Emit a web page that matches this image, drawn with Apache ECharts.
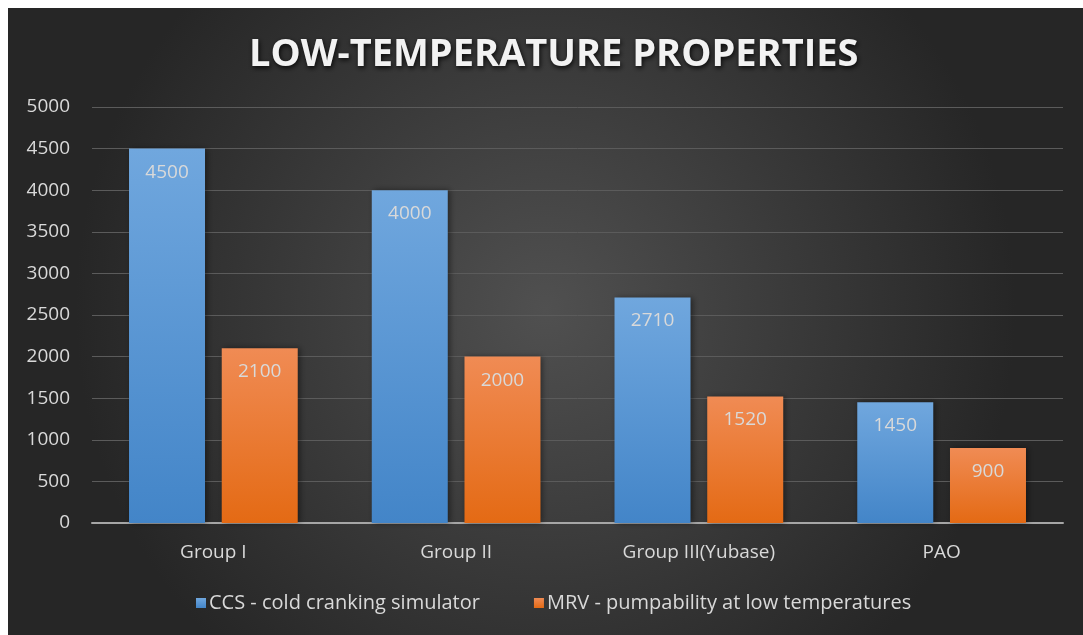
<!DOCTYPE html>
<html>
<head>
<meta charset="utf-8">
<script src="https://cdn.jsdelivr.net/npm/echarts@6/dist/echarts.min.js"></script>
<style>
  html, body { margin: 0; padding: 0; background: #ffffff; }
  #chart { width: 1083px; height: 635px; }
</style>
</head>
<body>
<div id="chart"></div>
<script>
// Base oil groups and their low-temperature test results
const categories = ['Group I', 'Group II', 'Group III(Yubase)', 'PAO'];
const ccsValues = [4500, 4000, 2710, 1450];
const mrvValues = [2100, 2000, 1520, 900];
const seriesNames = ['CCS - cold cranking simulator', 'MRV - pumpability at low temperatures'];
const chartTitle = 'LOW-TEMPERATURE PROPERTIES';

const textColor = '#d9d9d9';
const fontFamily = '"Open Sans", "Noto Sans", sans-serif';

const chart = echarts.init(document.getElementById('chart'), null, { renderer: 'canvas' });

function vGrad(top, bottom) {
  return new echarts.graphic.LinearGradient(0, 0, 0, 1, [
    { offset: 0, color: top },
    { offset: 1, color: bottom }
  ]);
}

const labelStyle = {
  show: true,
  position: 'insideTop',
  distance: 14,
  color: textColor,
  fontSize: 19,
  fontFamily: fontFamily
};

chart.setOption({
  backgroundColor: '#ffffff',
  graphic: [{
    type: 'rect',
    z: -10,
    silent: true,
    shape: { x: 8, y: 8, width: 1075, height: 627 },
    style: {
      fill: new echarts.graphic.RadialGradient(0.5, 0.48, 0.75, [
        { offset: 0, color: '#505050' },
        { offset: 1, color: '#262626' }
      ])
    }
  }],
  title: {
    text: chartTitle,
    left: 244,
    top: 31,
    textStyle: {
      color: '#f2f2f2',
      fontSize: 38,
      fontWeight: 'bold',
      fontFamily: fontFamily,
      textShadowColor: 'rgba(0,0,0,0.85)',
      textShadowBlur: 5,
      textShadowOffsetX: 1,
      textShadowOffsetY: 2
    }
  },
  legend: {
    bottom: 17,
    left: 191,
    itemWidth: 10,
    itemHeight: 10,
    itemGap: 54,
    icon: 'rect',
    textStyle: { color: textColor, fontSize: 20, fontFamily: fontFamily, padding: [0, 0, 0, -2] },
    data: seriesNames
  },
  grid: { left: 92, right: 20, top: 107, bottom: 112, containLabel: false },
  xAxis: {
    type: 'category',
    data: categories,
    axisLine: { lineStyle: { color: '#a6a6a6', width: 2 } },
    axisTick: { show: false },
    axisLabel: { color: textColor, fontSize: 19, fontFamily: fontFamily, margin: 20 }
  },
  yAxis: {
    type: 'value',
    min: 0,
    max: 5000,
    interval: 500,
    axisLine: { show: false },
    axisTick: { show: false },
    axisLabel: {
      color: textColor,
      fontSize: 19,
      fontFamily: fontFamily,
      margin: 22,
      formatter: (v) => String(v)
    },
    splitLine: { lineStyle: { color: '#5b5b5b', width: 1 } }
  },
  series: [
    {
      name: seriesNames[0],
      type: 'bar',
      data: ccsValues,
      barWidth: 76,
      barGap: '22%',
      itemStyle: {
        color: vGrad('#70a7de', '#4385c8'),
        shadowColor: 'rgba(0,0,0,0.45)',
        shadowBlur: 6,
        shadowOffsetX: 2
      },
      label: labelStyle
    },
    {
      name: seriesNames[1],
      type: 'bar',
      data: mrvValues,
      barWidth: 76,
      itemStyle: {
        color: vGrad('#f08b54', '#e46a14'),
        shadowColor: 'rgba(0,0,0,0.45)',
        shadowBlur: 6,
        shadowOffsetX: 2
      },
      label: labelStyle
    }
  ]
});
</script>
</body>
</html>
